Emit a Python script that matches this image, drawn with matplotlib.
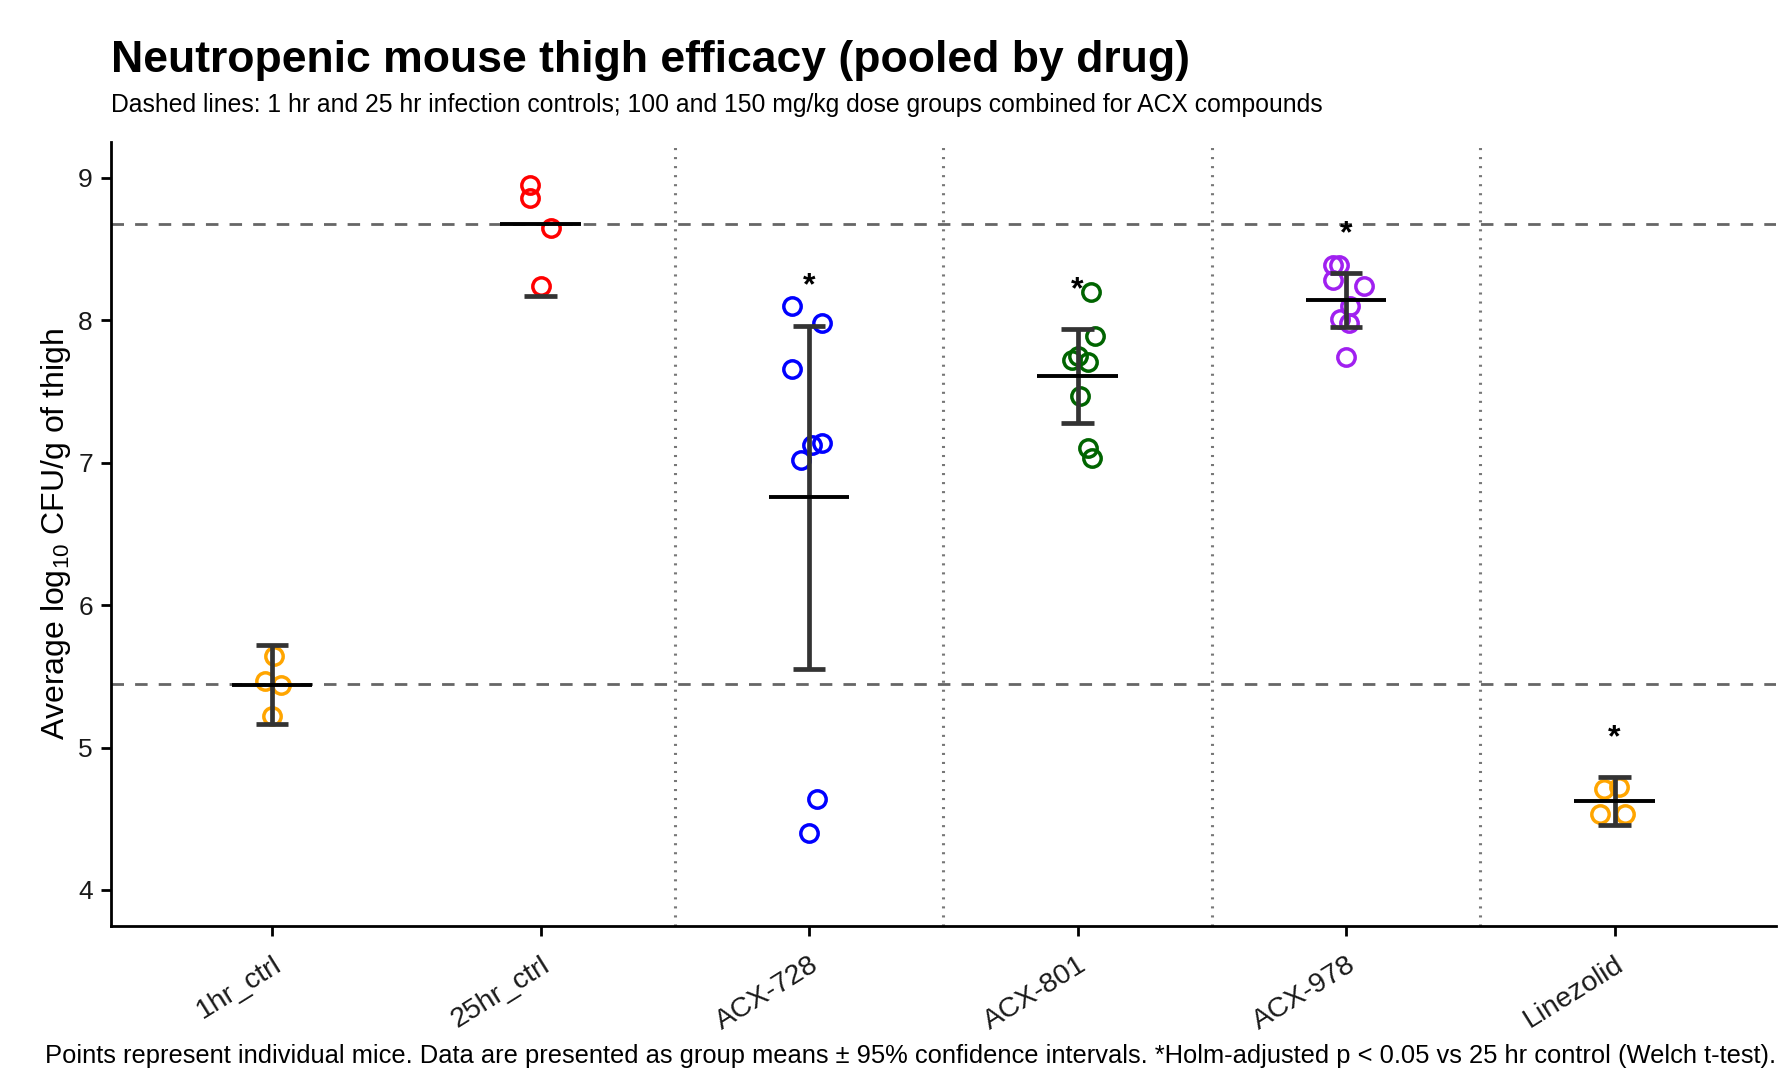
import numpy as np
import matplotlib
matplotlib.use('Agg')
import matplotlib.pyplot as plt

plt.rcParams['font.family'] = ['Liberation Sans', 'DejaVu Sans']
plt.rcParams['mathtext.fontset'] = 'custom'
plt.rcParams['mathtext.rm'] = 'Liberation Sans'
plt.rcParams['mathtext.it'] = 'Liberation Sans:italic'
plt.rcParams['lines.scale_dashes'] = False

# ---------------------------------------------------------------------------
# Data
# ---------------------------------------------------------------------------
groups = ['1hr_ctrl', '25hr_ctrl', 'ACX-728', 'ACX-801', 'ACX-978', 'Linezolid']
colors = ['#FFA500', '#FF0000', '#0000FF', '#006400', '#A020F0', '#FFA500']

vals_1hr = [5.64, 5.47, 5.44, 5.22]
vals_25hr = [8.95, 8.86, 8.65, 8.24]
vals_728 = [8.10, 7.985, 7.66, 7.136, 7.122, 7.017, 4.636, 4.40]
vals_801 = [8.198, 7.887, 7.751, 7.723, 7.705, 7.471, 7.104, 7.034]
vals_978 = [8.387, 8.387, 8.282, 8.240, 8.100, 8.013, 7.985, 7.740]
vals_lzd = [4.706, 4.724, 4.532, 4.532]

# horizontal jitter of each mouse, as seen in the picture (category units)
jit_1hr = [0.008, -0.027, 0.032, -0.002]
jit_25hr = [-0.041, -0.041, 0.040, 0.0]
jit_728 = [-0.065, 0.047, -0.065, 0.047, 0.012, -0.030, 0.031, 0.0]
jit_801 = [0.050, 0.065, 0.002, -0.019, 0.037, 0.010, 0.040, 0.052]
jit_978 = [-0.048, -0.027, -0.048, 0.066, 0.016, -0.021, 0.010, 0.0]
jit_lzd = [-0.038, 0.015, -0.053, 0.040]

significant = [False, False, True, True, True, True]
ctrl_1hr_mean = 5.443
ctrl_25hr_mean = 8.677

Y_LIMITS = (4.0, 9.0)   # scale limits; values outside are censored
T975 = {3: 3.182, 7: 2.365}

all_vals = [vals_1hr, vals_25hr, vals_728, vals_801, vals_978, vals_lzd]
all_jit = [jit_1hr, jit_25hr, jit_728, jit_801, jit_978, jit_lzd]

# ---------------------------------------------------------------------------
# Figure
# ---------------------------------------------------------------------------
W, H = 1780, 1070
fig = plt.figure(figsize=(W / 100, H / 100), dpi=100)
ax = fig.add_axes([111 / W, 1 - 925.5 / H, 1664.7 / W, (925.5 - 142.4) / H])

pad = 0.05 * (Y_LIMITS[1] - Y_LIMITS[0])
ax.set_ylim(Y_LIMITS[0] - pad, Y_LIMITS[1] + pad)
ax.set_xlim(-0.6, len(groups) - 1 + 0.6)

# reference lines
for yv in (ctrl_1hr_mean, ctrl_25hr_mean):
    ax.axhline(yv, color='#666666', lw=2.0, dashes=(9, 8), zorder=1)
for xv in np.arange(1.5, len(groups) - 1, 1.0):
    ax.axvline(xv, color='#777777', lw=2.2, dashes=(1.5, 5.0), zorder=1)

for i, (vals, jit, col) in enumerate(zip(all_vals, all_jit, colors)):
    v = np.array(vals)
    n = len(v)
    m = v.mean()
    half = T975[n - 1] * v.std(ddof=1) / np.sqrt(n)
    lo, hi = m - half, m + half

    ax.plot(i + np.array(jit), v, 'o', ms=12.5, mfc='none', mec=col, mew=2.5,
            zorder=3)

    # error bar (ggplot-style censoring: segments touching a censored end vanish)
    ecol = '#333333'
    cw = 0.06
    elw = 3.4
    lo_ok = Y_LIMITS[0] <= lo <= Y_LIMITS[1]
    hi_ok = Y_LIMITS[0] <= hi <= Y_LIMITS[1]
    if lo_ok and hi_ok:
        ax.plot([i, i], [lo, hi], color=ecol, lw=elw, zorder=4, solid_capstyle='butt')
    if lo_ok:
        ax.plot([i - cw, i + cw], [lo, lo], color=ecol, lw=elw, zorder=4, solid_capstyle='butt')
    if hi_ok:
        ax.plot([i - cw, i + cw], [hi, hi], color=ecol, lw=elw, zorder=4, solid_capstyle='butt')

    # mean crossbar
    ax.plot([i - 0.15, i + 0.15], [m, m], color='black', lw=2.8, zorder=5,
            solid_capstyle='butt')

    if significant[i]:
        ax.text(i, hi + 0.3, '*', ha='center', va='center_baseline', fontsize=23,
                fontweight='bold', color='black', zorder=6)

# axes styling (classic theme)
ax.spines['top'].set_visible(False)
ax.spines['right'].set_visible(False)
for s in ('left', 'bottom'):
    ax.spines[s].set_linewidth(2.0)
ax.set_yticks([4, 5, 6, 7, 8, 9])
ax.set_xticks(range(len(groups)))
ax.set_xticklabels(groups, rotation=32, ha='right', va='top', rotation_mode='anchor')
ax.tick_params(axis='both', length=7, width=2.0, color='black', labelsize=19,
               labelcolor='#1a1a1a', pad=6)
ax.tick_params(axis='x', pad=12, labelsize=20.5)
ax.set_ylabel('Average log$_{10}$ CFU/g of thigh', fontsize=23)
ax.yaxis.set_label_coords(-0.023, 0.5)

fig.text(111 / W, 1 - 72 / H, 'Neutropenic mouse thigh efficacy (pooled by drug)',
         fontsize=32, fontweight='bold', ha='left', va='baseline')
fig.text(111 / W, 1 - 112 / H,
         'Dashed lines: 1 hr and 25 hr infection controls; 100 and 150 mg/kg dose '
         'groups combined for ACX compounds',
         fontsize=17.8, ha='left', va='baseline')
fig.text(1776 / W, 1 - 1063 / H,
         'Points represent individual mice. Data are presented as group means \u00b1 95% '
         'confidence intervals. *Holm-adjusted p < 0.05 vs 25 hr control (Welch t-test).',
         fontsize=18.4, ha='right', va='baseline')

fig.savefig('out.png', dpi=100, facecolor='white')
